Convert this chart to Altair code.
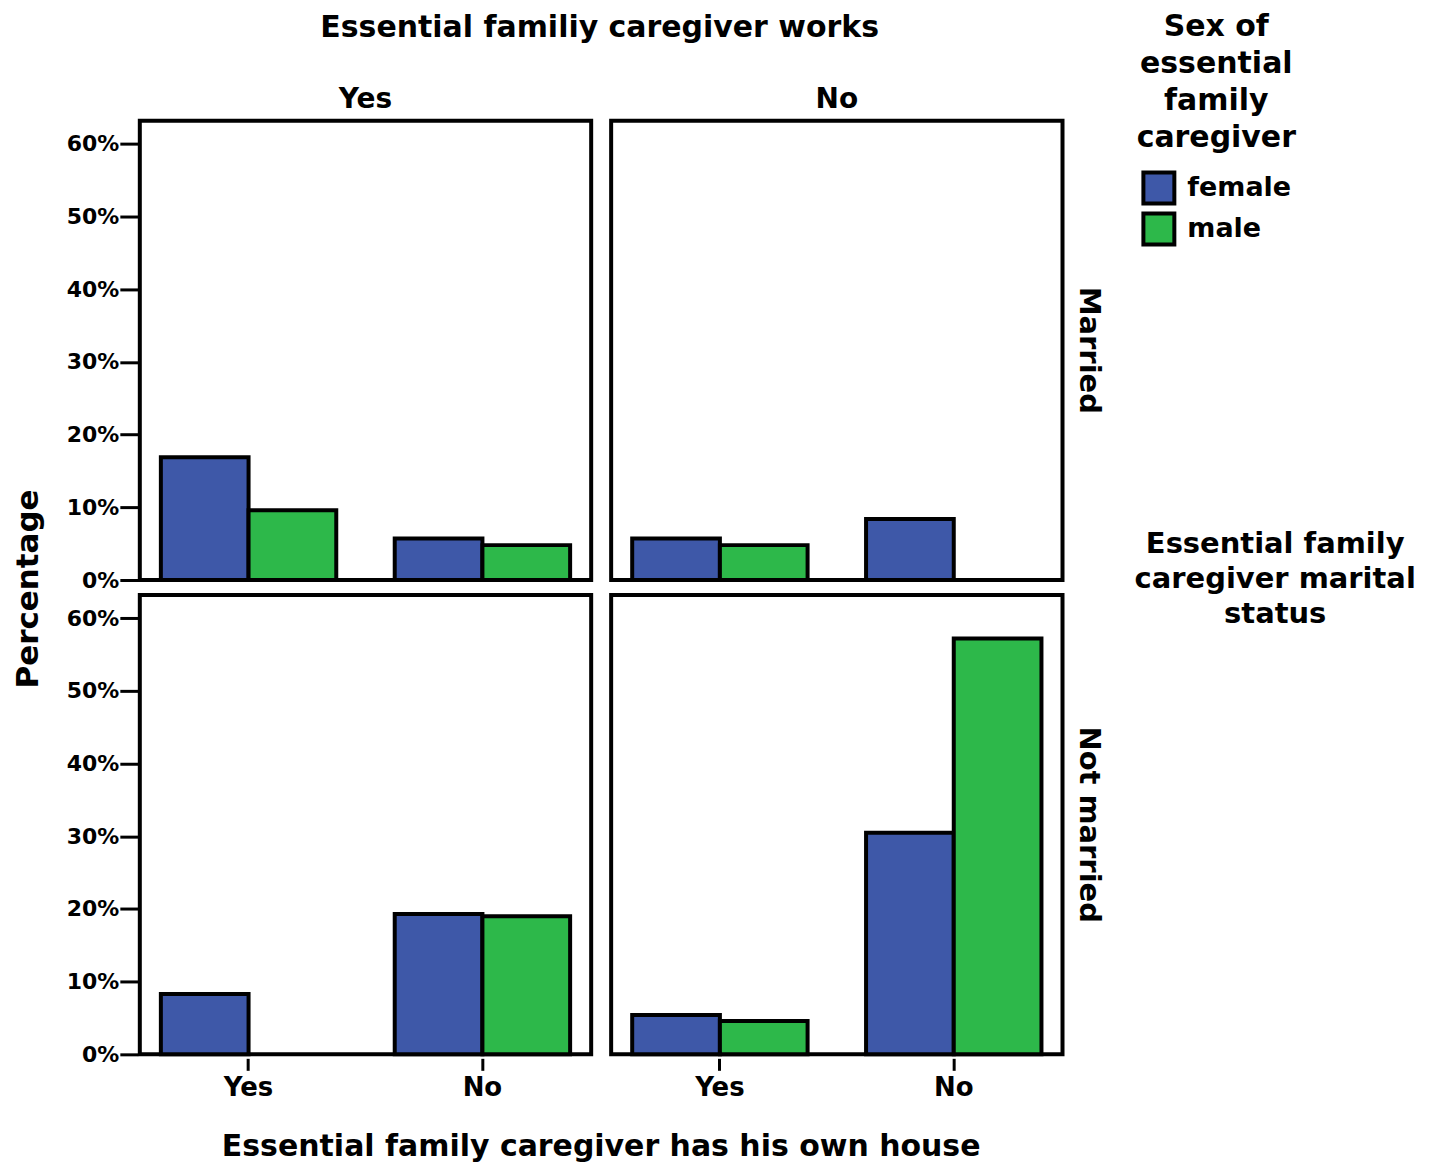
import altair as alt
import pandas as pd

# ---- data ----
marital = ["Married"] * 8 + ["Not married"] * 8
works = (["Yes"] * 4 + ["No"] * 4) * 2
house = ["Yes", "Yes", "No", "No"] * 4
sex = ["female", "male"] * 8
pct = [16.9, 9.6, 5.7, 4.8,
       5.7, 4.8, 8.4, 0.0,
       8.3, 0.0, 19.3, 19.0,
       5.4, 4.6, 30.5, 57.2]
y_ticks = [0, 10, 20, 30, 40, 50, 60]
sex_domain = ["female", "male"]
sex_colors = ["#3E58A8", "#2DB84A"]
yes_no = ["Yes", "No"]
marital_order = ["Married", "Not married"]

df = pd.DataFrame({
    "marital": marital,
    "works": works,
    "house": house,
    "sex": sex,
    "pct": pct,
    "note": ["m"] * len(pct),
})

FONT = "DejaVu Sans"

bars = alt.Chart(df).transform_filter("datum.pct > 0").mark_bar(
    stroke="black", strokeWidth=4
).encode(
    x=alt.X("house:N", sort=yes_no,
            scale=alt.Scale(domain=yes_no, paddingInner=0.25, paddingOuter=0.09),
            axis=alt.Axis(title=None, labelAngle=0, labelFontSize=26, labelFont=FONT,
                          labelFontWeight="bold", labelColor="black", tickSize=12,
                          tickWidth=3, tickColor="black", domain=False, labelPadding=4)),
    xOffset=alt.XOffset("sex:N", scale=alt.Scale(domain=sex_domain, paddingInner=0, paddingOuter=0)),
    y=alt.Y("pct:Q", scale=alt.Scale(domain=[0, 63.2], nice=False),
            axis=alt.Axis(title=None, values=y_ticks, labelExpr="datum.value + '%'",
                          grid=False, domain=False, tickSize=18, tickWidth=3,
                          tickColor="black", labelFontSize=22, labelFont=FONT,
                          labelFontWeight="bold", labelColor="black", labelPadding=1)),
    color=alt.Color("sex:N", scale=alt.Scale(domain=sex_domain, range=sex_colors),
                    legend=alt.Legend(title=["Sex of", "essential", "family", "caregiver"],
                                      orient="none", legendX=998, legendY=-109,
                                      titleFontSize=30, titleLineHeight=37, titleFont=FONT,
                                      titleFontWeight="bold", titleColor="black",
                                      titleAlign="center", titleAnchor="middle", titleLimit=600,
                                      titlePadding=18,
                                      labelFontSize=27, labelFont=FONT, labelFontWeight="bold",
                                      labelColor="black", symbolType="square", symbolSize=961,
                                      symbolStrokeColor="black", symbolStrokeWidth=4,
                                      symbolOpacity=1, rowPadding=-15, labelOffset=11)),
    opacity=alt.Opacity("note:N", scale=alt.Scale(domain=["m"], range=[1]),
                        legend=alt.Legend(title=["Essential family", "caregiver marital", "status"],
                                          orient="none", legendX=996, legendY=410,
                                          titleFontSize=29, titleLineHeight=35, titleFont=FONT,
                                          titleFontWeight="bold", titleColor="black",
                                          titleAlign="center", titleAnchor="middle", titleLimit=600,
                                          labelExpr="''", symbolOpacity=0, symbolSize=0,
                                          symbolStrokeWidth=0)),
).properties(width=452, height=460)

chart = bars.facet(
    row=alt.Row("marital:N", sort=marital_order,
                header=alt.Header(title="Percentage", titleOrient="left", titleAngle=270,
                                  labelOrient="right", labelAngle=90,
                                  titleFontSize=31, titleFont=FONT, titleFontWeight="bold",
                                  titleColor="black", titlePadding=-20,
                                  labelFontSize=29, labelFont=FONT, labelFontWeight="bold",
                                  labelColor="black", labelPadding=10)),
    column=alt.Column("works:N", sort=yes_no,
                      header=alt.Header(title="Essential family caregiver has his own house",
                                        titleOrient="bottom", labelOrient="top",
                                        titleFontSize=30, titleFont=FONT, titleFontWeight="bold",
                                        titleColor="black", titlePadding=22,
                                        labelFontSize=28, labelFont=FONT, labelFontWeight="bold",
                                        labelColor="black", labelPadding=5)),
    spacing={"row": 9, "column": 16},
).properties(
    title=alt.TitleParams("Essential familiy caregiver works", anchor="middle",
                          fontSize=30, font=FONT, fontWeight="bold", color="black",
                          offset=0, dx=-115, dy=31),
    padding={"left": 4, "top": 3, "right": 5, "bottom": 5},
).configure(
    font=FONT, background="white"
).configure_view(
    stroke="black", strokeWidth=4
)

chart.save("out.html", embed_options={"renderer": "svg", "actions": False})
